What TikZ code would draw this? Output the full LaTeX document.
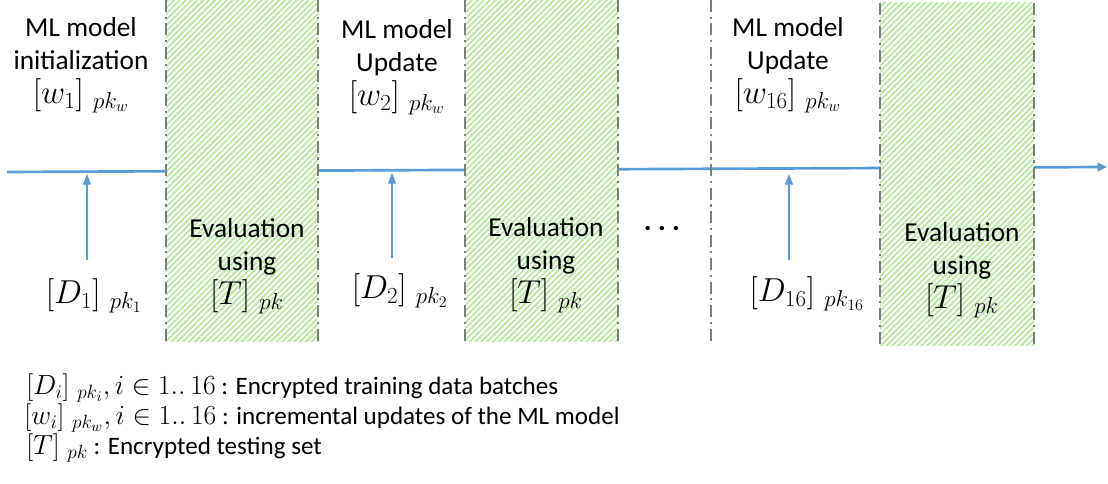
\documentclass[tikz,border=0pt]{standalone}
\usepackage{fontspec}
\setmainfont{Carlito}
\usetikzlibrary{patterns.meta,arrows.meta}
\definecolor{lineblue}{RGB}{91,155,213}
\definecolor{bordergray}{RGB}{125,125,125}
\definecolor{stripegreen}{RGB}{190,232,165}
% math set a little larger than the surrounding text
\newcommand{\bigmath}[1]{{\fontsize{25}{25}\selectfont$#1$}}
\newcommand{\keymath}[1]{{\fontsize{22.5}{22}\selectfont$#1$}}
\begin{document}
\begin{tikzpicture}[x=0.75pt,y=-0.75pt,
  phase/.style={preaction={fill=white},
    pattern={Lines[angle=45,distance=3.1pt,line width=1.5pt]},
    pattern color=stripegreen},
  border/.style={draw=bordergray, line width=1.8pt,
    dash pattern=on 9pt off 3.5pt on 1.6pt off 3.5pt},
  label/.style={align=center, font=\fontsize{20.5}{25}\selectfont, inner sep=0pt},
  legend/.style={anchor=west, font=\fontsize{18.8}{22}\selectfont, inner sep=0pt},
  timeline/.style={draw=lineblue, line width=2pt, -{Triangle[length=7pt,width=6.5pt]}},
  feed/.style={draw=lineblue, line width=0.9pt, -{Triangle[length=8pt,width=6pt]}}
]
\useasboundingbox (0,0) rectangle (1108,484);

% time axis
\coordinate (tstart) at (7,172);
\coordinate (tend) at (1107,167);
\draw[timeline] (tstart) -- (tend);

% evaluation phases (hatched)
\fill[phase] (166,0) rectangle (318,342);
\fill[phase] (465,0) rectangle (618,342);
\fill[phase] (880,3) rectangle (1034,346);

% phase separators
\draw[border] (166,0) -- (166,342);
\draw[border] (318,0) -- (318,342);
\draw[border] (465,0) -- (465,342);
\draw[border] (618,0) -- (618,342);
\draw[border] (711,0) -- (711,343);
\draw[border] (880,3) -- (880,346);
\draw[border] (1034,3) -- (1034,346);

% training data feeding into the model
\coordinate (f1b) at (87,260);  \coordinate (f1t) at (87,174);
\coordinate (f2b) at (392,258); \coordinate (f2t) at (392,173);
\coordinate (f3b) at (789,260); \coordinate (f3t) at (789,174);
\draw[feed] (f1b) -- (f1t);
\draw[feed] (f2b) -- (f2t);
\draw[feed] (f3b) -- (f3t);

% labels
\node[label] (init) at (81,65) {ML model\\initialization\\\bigmath{[w_1]\;{}_{pk_w}}};
\node[label] (d1) at (94,296) {\bigmath{[D_1]\;{}_{pk_1}}};
\node[label] (eval1) at (247,266) {Evaluation\\using\\\bigmath{[T]\;{}_{pk}}};

\node[label] (upd2) at (397,67) {ML model\\Update\\\bigmath{[w_2]\;{}_{pk_w}}};
\node[label] (d2) at (400,291) {\bigmath{[D_2]\;{}_{pk_2}}};
\node[label] (eval2) at (546,265) {Evaluation\\using\\\bigmath{[T]\;{}_{pk}}};

\node[label] (dots) at (662,229) {{\fontsize{20}{20}\selectfont\boldmath$\cdots$}};

\node[label] (upd16) at (788,65) {ML model\\Update\\\bigmath{[w_{16}]\;{}_{pk_w}}};
\node[label] (d16) at (807,294) {\bigmath{[D_{16}]\;{}_{pk_{16}}}};
\node[label] (eval3) at (962,270) {Evaluation\\using\\\bigmath{[T]\;{}_{pk}}};

% key
\node[legend] (key1) at (26,388) {\keymath{[D_i]\;{}_{pk_i}, i \in 1..\,16} : Encrypted training data batches};
\node[legend] (key2) at (24,418) {\keymath{[w_i]\;{}_{pk_w}, i \in 1..\,16} : incremental updates of the ML model};
\node[legend] (key3) at (26,448) {\keymath{[T]\;{}_{pk}} : Encrypted testing set};
\end{tikzpicture}
\end{document}
